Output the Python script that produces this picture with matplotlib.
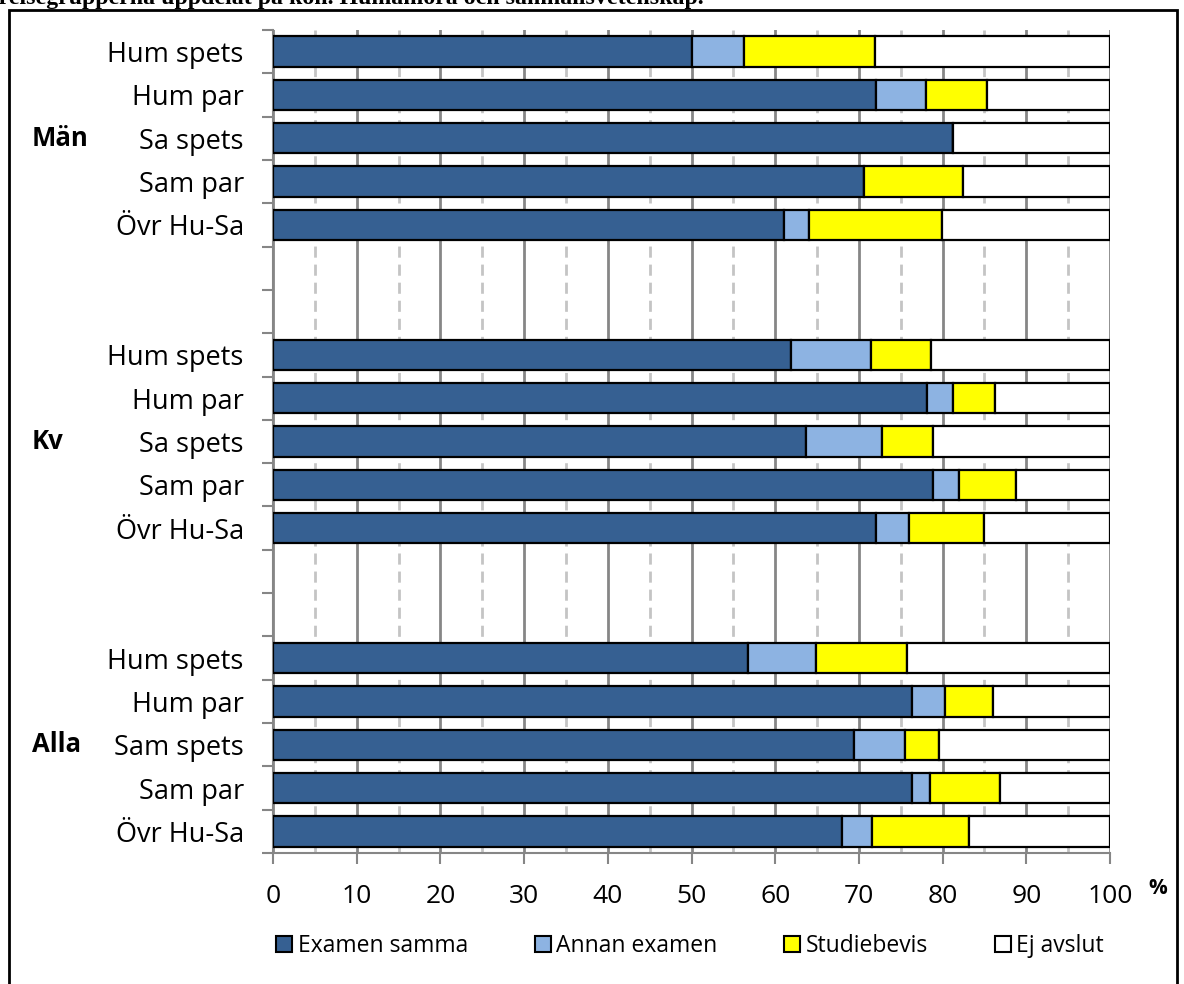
import numpy as np
import matplotlib
matplotlib.use("Agg")
import matplotlib.pyplot as plt
from matplotlib.patches import Patch, Rectangle
from matplotlib.transforms import blended_transform_factory

plt.rcParams['font.family'] = ['Open Sans', 'DejaVu Sans']

# data (percent)
groups = ['Män', 'Kv', 'Alla']
cats_man = ['Hum spets', 'Hum par', 'Sa spets', 'Sam par', 'Övr Hu-Sa']
cats_kv = ['Hum spets', 'Hum par', 'Sa spets', 'Sam par', 'Övr Hu-Sa']
cats_alla = ['Hum spets', 'Hum par', 'Sam spets', 'Sam par', 'Övr Hu-Sa']

examen_man = [50.0, 72.1, 81.3, 70.6, 61.0]
annan_man = [6.3, 5.9, 0.0, 0.0, 3.0]
studie_man = [15.6, 7.3, 0.0, 11.8, 15.9]

examen_kv = [61.9, 78.1, 63.7, 78.8, 72.1]
annan_kv = [9.6, 3.2, 9.1, 3.1, 3.9]
studie_kv = [7.1, 5.0, 6.0, 6.9, 9.0]

examen_alla = [56.8, 76.3, 69.4, 76.3, 68.0]
annan_alla = [8.1, 4.0, 6.1, 2.2, 3.6]
studie_alla = [10.8, 5.7, 4.1, 8.4, 11.6]

series = ['Examen samma', 'Annan examen', 'Studiebevis', 'Ej avslut']
colors = ['#366092', '#8db3e2', '#ffff00', '#ffffff']

title_line = 'jämförelsegrupperna uppdelat på kön. Humaniora och samhällsvetenskap.'
title_visible = 'relsegrupperna uppdelat på kön. Humaniora och samhällsvetenskap.'

# stack rows: 5 bars, 2 empty slots, 5 bars, 2 empty, 5 bars
pos = [0, 1, 2, 3, 4, 7, 8, 9, 10, 11, 14, 15, 16, 17, 18]
labels = cats_man + cats_kv + cats_alla
examen = np.array(examen_man + examen_kv + examen_alla)
annan = np.array(annan_man + annan_kv + annan_alla)
studie = np.array(studie_man + studie_kv + studie_alla)
ej = 100 - examen - annan - studie

fig = plt.figure(figsize=(11.84, 9.84), dpi=100)
W, H = 1184, 984
ax = fig.add_axes([273 / W, 1 - 853 / H, (1110 - 273) / W, (853 - 30) / H])

left = np.zeros(len(pos))
for vals, col in zip([examen, annan, studie, ej], colors):
    ax.barh(pos, vals, left=left, height=0.7, color=col, edgecolor='black', linewidth=1.6, zorder=3)
    left = left + vals

ax.set_xlim(0, 100)
ax.set_ylim(18.5, -0.5)
ax.set_xticks(np.arange(0, 101, 10))
ax.set_xticks(np.arange(5, 100, 10), minor=True)
ax.grid(axis='x', which='major', color='#868686', linewidth=2, zorder=0)
ax.grid(axis='x', which='minor', color='#c4c4c4', linewidth=2, linestyle=(0, (4, 2.5)), zorder=0)
ax.set_axisbelow(True)

ax.set_yticks(np.arange(-0.5, 19, 1))
ax.set_yticklabels([])
ax.set_yticks(pos, labels, minor=True)
ax.tick_params(axis='y', which='major', length=8, width=1.5, color='#868686')
ax.tick_params(axis='y', which='minor', length=0, pad=21, labelsize=19.5)
ax.tick_params(axis='x', which='major', length=8, width=1.5, color='#868686', labelsize=19, pad=14)
ax.tick_params(axis='x', which='minor', length=0)

for s in ['top', 'right']:
    ax.spines[s].set_visible(False)
for s in ['left', 'bottom']:
    ax.spines[s].set_color('#868686')
    ax.spines[s].set_linewidth(1.5)

# group labels
trans = blended_transform_factory(fig.transFigure, ax.transData)
for g, mid in zip(groups, [2, 9, 16]):
    ax.text(32 / W, mid, g, transform=trans, ha='left', va='center', fontsize=18.5, fontweight='bold')

fig.text(1158 / W, 1 - 888 / H, '%', ha='center', va='center', fontsize=15, fontweight='bold')

handles = [Patch(facecolor=c, edgecolor='black', linewidth=1.5) for c in colors]
fig.legend(handles, series, loc='center', bbox_to_anchor=(690 / W, 1 - 946 / H), ncol=4,
           frameon=False, fontsize=16.5, handlelength=0.7, handleheight=0.7,
           handletextpad=0.25, columnspacing=2.9)

# outer frame of the figure box
fig.patches.append(Rectangle((9 / W, -0.05), (1177 - 9) / W, 1.05 - 10 / H, transform=fig.transFigure,
                             fill=False, edgecolor='black', linewidth=2))

# caption line cut off at the top of the crop; size it so the visible part spans ~706 px
probe = fig.text(0, 0, title_visible, fontsize=16, fontweight='bold', family='Liberation Serif')
fig.canvas.draw()
w = probe.get_window_extent().width
probe.remove()
fs = 16 * 706 / w
fig.text(704 / W, 1 - 4 / H, title_line, ha='right', va='baseline', fontsize=fs,
         fontweight='bold', family='Liberation Serif')

fig.savefig('out.png', dpi=100)
